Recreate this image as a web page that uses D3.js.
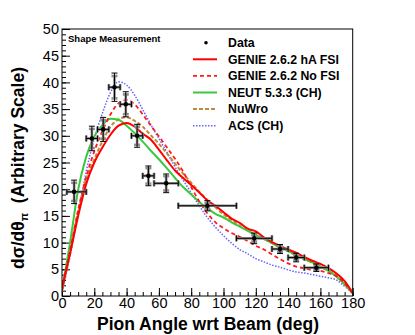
<!DOCTYPE html>
<html>
<head>
<meta charset="utf-8">
<script src="https://cdn.jsdelivr.net/npm/d3@7"></script>
<style>
  body { margin: 0; background: #fff; }
  svg { display: block; font-family: 'Liberation Sans', Arial, sans-serif; }
</style>
</head>
<body>
<svg></svg>
<script>
// measured points
const angle   = [7.5, 18.5, 25.5, 32.5, 39.5, 46.5, 53.5, 64.5, 90, 119, 135, 145, 157.5]
const angleLo = [3, 15, 22, 29, 36, 43, 50, 57, 72, 108, 130, 140, 150]
const angleHi = [15, 22, 29, 36, 43, 50, 57, 72, 108, 130, 140, 150, 165]
const xsec    = [19.5, 29.5, 31.2, 39.1, 35.9, 30.0, 22.5, 21.1, 16.9, 10.8, 8.8, 7.2, 5.3]
const errTot  = [2.2, 2.3, 2.25, 2.65, 2.35, 2.15, 1.85, 1.75, 0.95, 1.0, 0.85, 0.8, 0.7]
const errStat = [1.7, 1.8, 1.75, 2.1, 1.85, 1.7, 1.45, 1.35, 0.55, 0.6, 0.5, 0.45, 0.4]

// model predictions
const curveAngle = [0, 5, 10, 15, 20, 25, 30, 35, 40, 45, 50, 55, 60, 65, 70, 75, 80, 85, 90,
                    95, 100, 105, 110, 115, 120, 125, 130, 135, 140, 145, 150, 155, 160, 165, 170, 175, 180]
const genieHA    = [1.5, 8, 15, 21, 25, 27.8, 30.2, 31.9, 32.4, 31.7, 30.4, 29.3, 27.4, 25.4, 23.5, 22.1, 20.8, 19.4, 17.9,
                    16.9, 15.7, 14.5, 13.7, 12.6, 12.1, 11, 10.1, 9.4, 8.7, 8.1, 7.3, 6.6, 6, 5.2, 4.2, 2.8, 0.6]
const genieNoFSI = [1, 8.5, 16, 22.3, 27.1, 30.9, 34, 36.1, 36.7, 35.9, 34, 31.9, 29.9, 27.8, 25.7, 23.3, 20.4, 17.7, 15.5,
                    13.8, 12.7, 11.8, 11.1, 10.3, 9.4, 8.7, 7.8, 6.9, 6.1, 5.5, 5.2, 4.9, 4.7, 4.3, 3.7, 2.4, 0.5]
const neut       = [1, 10, 19.9, 26.1, 29.9, 32, 33.2, 33, 31.9, 30.5, 28.9, 27.2, 25.6, 23.9, 22.1, 20.4, 19, 17.6, 16.4,
                    15.4, 14.7, 13.8, 13, 12.2, 11.4, 10.7, 9.9, 9.1, 8.4, 7.7, 6.9, 6.3, 5.5, 4.7, 3.6, 2.2, 0.5]
const nuwro      = [1, 8, 16, 21.8, 25.6, 29, 31.7, 33.1, 33.5, 32.8, 31.7, 30.1, 28.5, 26.7, 24.8, 22.9, 21.2, 19.5, 18,
                    16.6, 15.3, 14.2, 13.2, 12.3, 11.4, 10.7, 9.9, 9.1, 8.4, 7.6, 6.9, 6.2, 5.5, 4.7, 3.8, 2.2, 0.5]
const acs        = [0.8, 7.5, 15.5, 23.3, 29.5, 34.2, 38.1, 40.1, 39.5, 37.6, 34.9, 32.1, 29.5, 26.9, 24.2, 21.7, 19.3, 16.9, 14.7,
                    12.9, 11.3, 9.9, 8.7, 7.9, 7, 6.4, 5.8, 5.4, 4.9, 4.5, 4.3, 4, 3.7, 3.4, 3, 1.8, 0.5]

const legendLabels = ['Data', 'GENIE 2.6.2 hA FSI', 'GENIE 2.6.2 No FSI', 'NEUT 5.3.3 (CH)', 'NuWro', 'ACS (CH)']
const xTicks = [0, 20, 40, 60, 80, 100, 120, 140, 160, 180]
const yTicks = [0, 5, 10, 15, 20, 25, 30, 35, 40, 45, 50]

const width = 415
const height = 335
const frameLeft = 62
const frameRight = 352.7
const frameTop = 29
const frameBottom = 296

const svg = d3.select('svg')
              .attr('width', width)
              .attr('height', height)

const xScale = d3.scaleLinear().domain([0, 180]).range([frameLeft, frameRight])
const yScale = d3.scaleLinear().domain([0, 50]).range([frameBottom, frameTop])

svg.append('defs').append('clipPath').attr('id', 'frame')
   .append('rect')
   .attr('x', frameLeft).attr('y', frameTop)
   .attr('width', frameRight - frameLeft).attr('height', frameBottom - frameTop)

// axes, ticks pointing into the frame like ROOT
const styleAxis = g => {
  g.select('.domain').remove()
  g.selectAll('line').attr('stroke', '#000')
  g.selectAll('text').attr('font-size', 14.5).attr('fill', '#000')
}

svg.append('g')
   .attr('transform', `translate(0, ${frameBottom})`)
   .call(d3.axisBottom(xScale).tickValues(d3.range(0, 181, 5)).tickSize(-4).tickFormat(''))
   .call(styleAxis)
svg.append('g')
   .attr('transform', `translate(0, ${frameBottom})`)
   .call(d3.axisBottom(xScale).tickValues(xTicks).tickSize(-8).tickPadding(2).tickFormat(d3.format('d')))
   .call(styleAxis)

svg.append('g')
   .attr('transform', `translate(${frameLeft}, 0)`)
   .call(d3.axisLeft(yScale).tickValues(d3.range(0, 51, 1)).tickSize(-4).tickFormat(''))
   .call(styleAxis)
svg.append('g')
   .attr('transform', `translate(${frameLeft}, 0)`)
   .call(d3.axisLeft(yScale).tickValues(yTicks).tickSize(-8).tickPadding(3).tickFormat(d3.format('d')))
   .call(styleAxis)

// model curves
const models = [
  { values: genieHA,    color: '#ff0000', width: 2,   dash: null },
  { values: genieNoFSI, color: '#ff1a1a', width: 1.8, dash: '4,3' },
  { values: neut,       color: '#3cc83c', width: 2,   dash: null },
  { values: nuwro,      color: '#c08a3a', width: 2,   dash: '4,2' },
  { values: acs,        color: '#6464ff', width: 1.5, dash: '1.5,1.5' }
]

const line = d3.line()
               .x(d => xScale(d[0]))
               .y(d => yScale(d[1]))
               .curve(d3.curveMonotoneX)

const curves = svg.append('g').attr('clip-path', 'url(#frame)')
;[models[4], models[3], models[2], models[1], models[0]].forEach(m => {
  curves.append('path')
        .datum(curveAngle.map((a, i) => [a, m.values[i]]))
        .attr('d', line)
        .attr('fill', 'none')
        .attr('stroke', m.color)
        .attr('stroke-width', m.width)
        .attr('stroke-dasharray', m.dash)
})

// data with two error layers
const points = angle.map((a, i) => ({ a, lo: angleLo[i], hi: angleHi[i], v: xsec[i], et: errTot[i], es: errStat[i] }))
const cap = 3

const drawErrors = (g, err, color, w) => {
  points.forEach(p => {
    const segs = [
      [xScale(p.a), yScale(p.v - p[err]), xScale(p.a), yScale(p.v + p[err])],
      [xScale(p.lo), yScale(p.v), xScale(p.hi), yScale(p.v)],
      [xScale(p.a) - cap, yScale(p.v - p[err]), xScale(p.a) + cap, yScale(p.v - p[err])],
      [xScale(p.a) - cap, yScale(p.v + p[err]), xScale(p.a) + cap, yScale(p.v + p[err])],
      [xScale(p.lo), yScale(p.v) - cap, xScale(p.lo), yScale(p.v) + cap],
      [xScale(p.hi), yScale(p.v) - cap, xScale(p.hi), yScale(p.v) + cap]
    ]
    g.selectAll(null)
     .data(segs)
     .join('line')
     .attr('x1', d => d[0]).attr('y1', d => d[1])
     .attr('x2', d => d[2]).attr('y2', d => d[3])
     .attr('stroke', color)
     .attr('stroke-width', w)
  })
}

const dataG = svg.append('g')
drawErrors(dataG.append('g'), 'es', '#8c8c8c', 2.6)
drawErrors(dataG.append('g'), 'et', '#000', 1)
dataG.selectAll('circle')
     .data(points)
     .join('circle')
     .attr('cx', d => xScale(d.a))
     .attr('cy', d => yScale(d.v))
     .attr('r', 2.3)
     .attr('fill', '#000')

// frame
svg.append('rect')
   .attr('x', frameLeft).attr('y', frameTop)
   .attr('width', frameRight - frameLeft).attr('height', frameBottom - frameTop)
   .attr('fill', 'none')
   .attr('stroke', '#000')
   .attr('stroke-width', 1)

svg.append('text')
   .text('Shape Measurement')
   .attr('x', 68).attr('y', 42)
   .attr('font-size', 9.5)
   .attr('font-weight', 'bold')

// legend
const legendX1 = 193
const legendX2 = 217
const legendY = 42.7
const legendStep = 16.6
const legend = svg.append('g')
legendLabels.forEach((label, i) => {
  const y = legendY + i * legendStep
  if (i === 0) {
    legend.append('circle').attr('cx', 206).attr('cy', y).attr('r', 1.8).attr('fill', '#000')
  } else {
    const m = models[i - 1]
    legend.append('line')
          .attr('x1', legendX1).attr('x2', legendX2)
          .attr('y1', y).attr('y2', y)
          .attr('stroke', m.color)
          .attr('stroke-width', m.width)
          .attr('stroke-dasharray', m.dash)
  }
  legend.append('text')
        .text(label)
        .attr('x', 228).attr('y', y + 4.3)
        .attr('font-size', 12.3)
        .attr('font-weight', 'bold')
})

// axis titles
svg.append('text')
   .text('Pion Angle wrt Beam (deg)')
   .attr('x', 208).attr('y', 329.5)
   .attr('text-anchor', 'middle')
   .attr('font-size', 17.5)
   .attr('font-weight', 'bold')

const yTitle = svg.append('text')
   .attr('transform', 'translate(24, 168)rotate(-90)')
   .attr('text-anchor', 'middle')
   .attr('font-size', 17.5)
   .attr('font-weight', 'bold')
yTitle.append('tspan').text('dσ/dθ')
yTitle.append('tspan').text('π').attr('font-size', 11).attr('dy', 4)
yTitle.append('tspan').text('  (Arbitrary Scale)').attr('dy', -4).attr('xml:space', 'preserve')
</script>
</body>
</html>
